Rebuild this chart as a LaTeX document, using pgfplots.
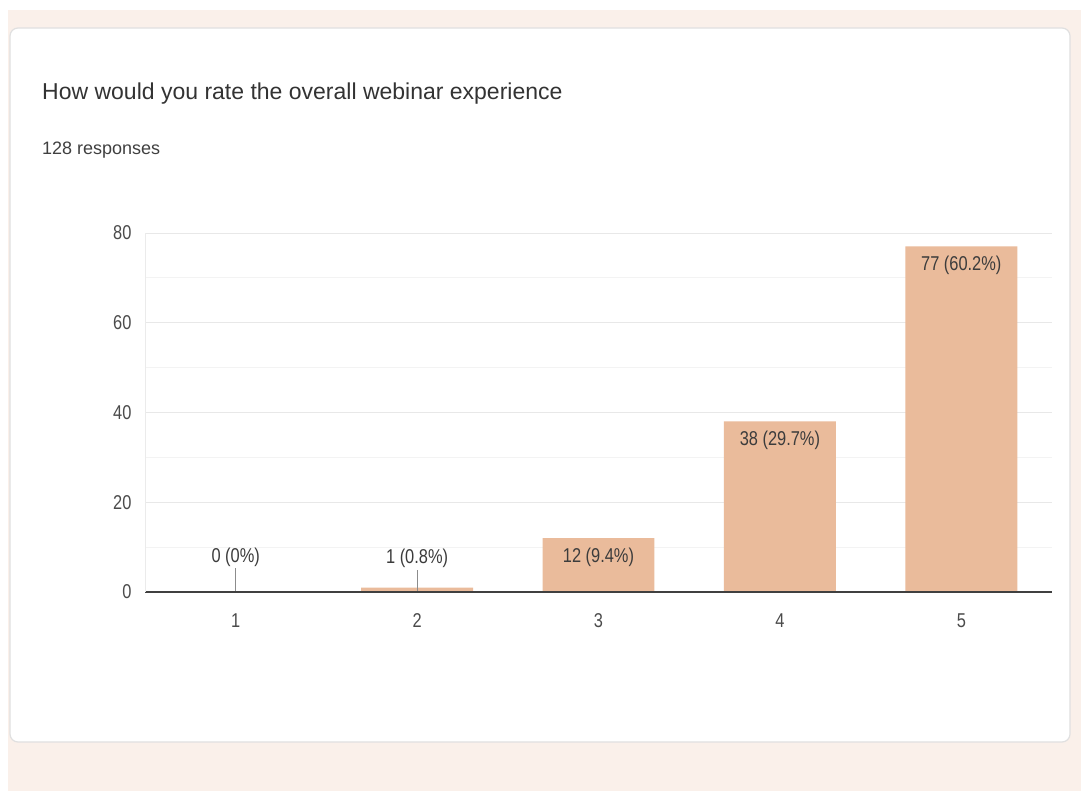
\documentclass[border=0pt]{standalone}
\usepackage{fontspec}
\setmainfont{Liberation Sans}
\newfontfamily\narrowfont[FakeStretch=0.82]{Liberation Sans}
\usepackage{pgfplots}
\pgfplotsset{compat=1.18}

\definecolor{peach}{RGB}{250,240,234}
\definecolor{barc}{RGB}{234,187,155}
\definecolor{labc}{RGB}{60,60,60}
\definecolor{tickc}{RGB}{75,75,75}
\definecolor{gridmaj}{RGB}{232,232,232}
\definecolor{gridmin}{RGB}{243,243,243}

\begin{document}
\begin{tikzpicture}[x=1pt,y=1pt]
% page and card (1 px = 1 pt)
\path[use as bounding box] (0,0) rectangle (1081,-791);
\fill[white] (0,0) rectangle (1081,-791);
\fill[peach] (8,-10) rectangle (1081,-791);
\filldraw[fill=white, draw=black!12, line width=1.2pt, rounded corners=8pt] (10,-28) rectangle (1070,-742);

\node[anchor=base west, inner sep=0pt, text=black!80] at (42,-100) {\fontsize{23}{26}\selectfont How would you rate the overall webinar experience};
\node[anchor=base west, inner sep=0pt, text=black!75] at (42,-155) {\fontsize{18}{21}\selectfont 128 responses};

\begin{axis}[
  at={(145pt,-592pt)}, anchor=south west,
  scale only axis, width=907pt, height=359pt,
  xmin=0.5, xmax=5.5, ymin=0, ymax=80,
  xtick={1,2,3,4,5},
  ytick={0,20,40,60,80},
  minor y tick num=1,
  ymajorgrids, yminorgrids,
  major grid style={draw=gridmaj, line width=1pt},
  minor grid style={draw=gridmin, line width=1pt},
  axis line style={draw=none},
  tick style={draw=none},
  ticklabel style={text=tickc, font=\narrowfont\fontsize{20}{23}\selectfont},
  xticklabel style={yshift=-18pt},
  yticklabel style={xshift=-10pt},
  /pgf/number format/assume math mode=true,
]
\addplot[ybar, bar width=0.617, fill=barc, draw=none] coordinates {
  (1,0) (2,1) (3,12) (4,38) (5,77)
};
% labels inside the taller bars
\addplot[draw=none, mark=none,
  point meta=explicit symbolic,
  nodes near coords,
  every node near coord/.style={anchor=north, yshift=-6pt, text=labc, font=\narrowfont\fontsize{20}{23}\selectfont},
] coordinates {
  (3,12) [12 (9.4\%)]
  (4,38) [38 (29.7\%)]
  (5,77) [77 (60.2\%)]
};
% leader lines and labels for the tiny bars
\addplot[ycomb, draw=black!45, line width=1pt, mark=none,
  point meta=explicit symbolic,
  nodes near coords,
  every node near coord/.style={anchor=south, inner sep=1pt, text=labc, font=\narrowfont\fontsize{20}{23}\selectfont},
] coordinates {
  (1,5.3) [0 (0\%)]
  (2,5.0) [1 (0.8\%)]
};
\draw[black!75, line width=1.6pt] (rel axis cs:0,0) -- (rel axis cs:1,0);
\draw[black!8, line width=1pt] (rel axis cs:0,0) -- (rel axis cs:0,1);
\end{axis}
\end{tikzpicture}
\end{document}
